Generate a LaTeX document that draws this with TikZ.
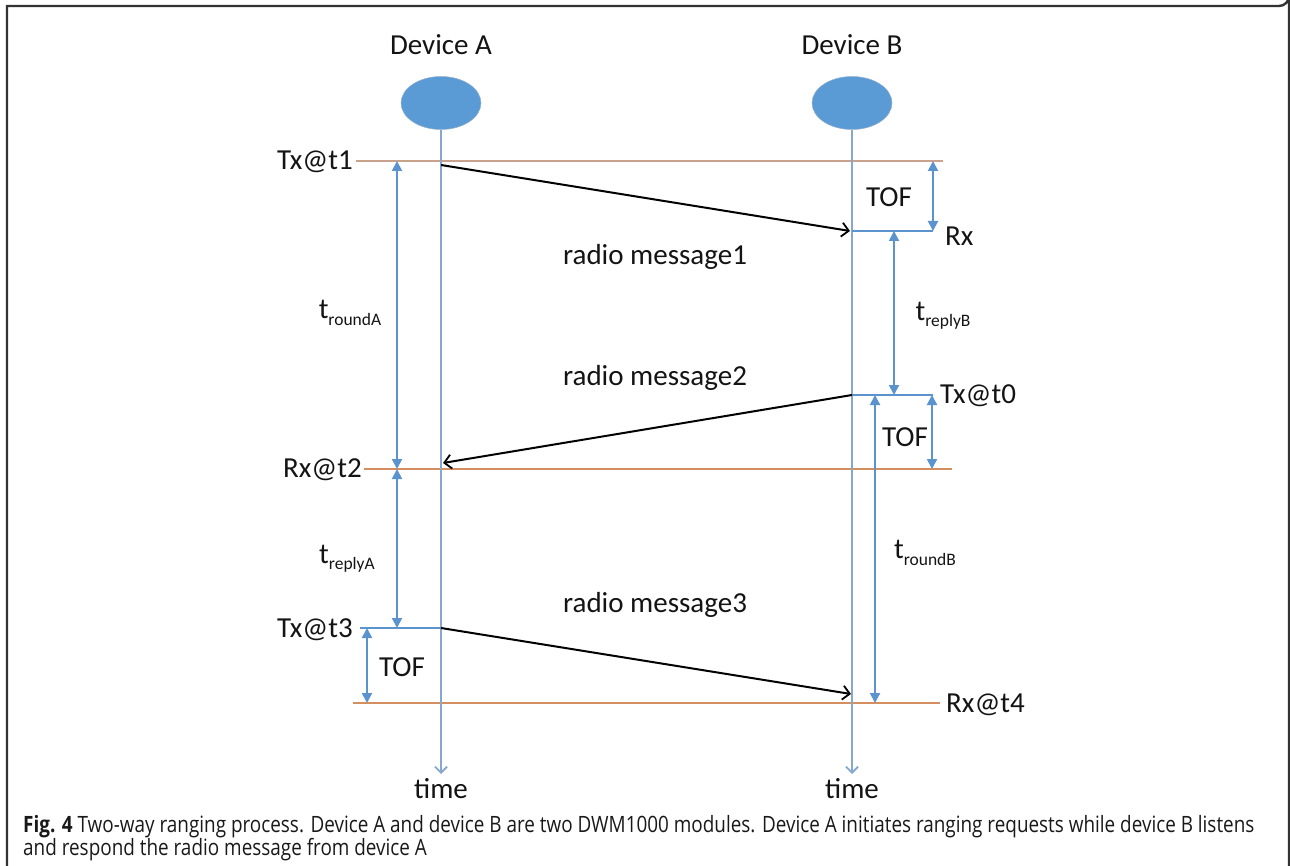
\documentclass[tikz,border=0pt]{standalone}
\usepackage{fontspec}
\setmainfont{Carlito}
\newfontfamily\capfont[FakeStretch=0.84]{Open Sans}
\usetikzlibrary{arrows.meta,shapes.geometric}
\definecolor{lifeblue}{HTML}{86A8CF}
\definecolor{arrblue}{HTML}{5B93CE}
\definecolor{ellblue}{HTML}{5B9BD5}
\definecolor{tanline}{HTML}{C9A28C}
\definecolor{rxorange}{HTML}{D58E60}
\definecolor{framegray}{HTML}{333333}
\newcommand{\tsub}[2]{#1\raisebox{-0.22em}{\fontsize{17.5}{17.5}\selectfont #2}}
\tikzset{
  lbl/.style={font=\fontsize{29}{29}\selectfont, inner sep=0pt, text=black!92},
  dev/.style={ellipse, fill=ellblue, draw=ellblue!80!black!60, line width=0.5pt, minimum width=80pt, minimum height=53pt, inner sep=0pt},
  lifeline/.style={draw=lifeblue, line width=2.6pt, -{Straight Barb[length=6pt,width=12pt,line width=1.8pt]}},
  span/.style={draw=arrblue, line width=2pt, {Triangle[length=10pt,width=10pt]}-{Triangle[length=10pt,width=10pt]}},
  stamp/.style={draw=arrblue, line width=2pt},
  msg/.style={draw=black, line width=2pt, -{Straight Barb[length=7pt,width=14pt,line width=1.8pt]}},
  tanrule/.style={draw=tanline, line width=2.4pt},
  orrule/.style={draw=rxorange, line width=2.4pt},
  captext/.style={font=\capfont\fontsize{22.5}{22.5}\selectfont, inner sep=0pt, anchor=base west, text=black!90}
}
\begin{document}
\begin{tikzpicture}[x=1pt,y=-1pt]
\useasboundingbox (0,0) rectangle (1290,866);
% frame
\draw[framegray, line width=2.4pt] (7,866) -- (7,6) -- (1279,6) arc[start angle=90, end angle=0, radius=10] -- (1289,866);

% devices
\node[lbl] (devA) at (441,45) {Device A};
\node[lbl] (devB) at (852,45) {Device B};
\node[dev] (ellA) at (441,103) {};
\node[dev] (ellB) at (852,103) {};

% coordinates
\coordinate (endA) at (441,774);
\coordinate (endB) at (852,774);
\node[lbl] (timeA) at (441,789) {time};
\node[lbl] (timeB) at (852,789) {time};

% horizontal rules
\coordinate (t1L) at (356,161); \coordinate (t1R) at (943,161);
\coordinate (t2L) at (364,469); \coordinate (t2R) at (952,469);
\coordinate (t4L) at (353,703); \coordinate (t4R) at (940,703);
\draw[tanrule] (t1L) -- (t1R);
\draw[orrule] (t2L) -- (t2R);
\draw[orrule] (t4L) -- (t4R);

% lifelines
\draw[lifeline] (ellA.south) -- (endA);
\draw[lifeline] (ellB.south) -- (endB);

% B side stamps
\coordinate (rxB) at (852,231); \coordinate (rxBR) at (933,231);
\coordinate (t0B) at (852,395); \coordinate (t0BR) at (933,395);
\draw[stamp] (rxB) -- (rxBR);
\draw[stamp] (t0B) -- (t0BR);
% A side stamp
\coordinate (t3L) at (360,628); \coordinate (t3A) at (441,628);
\draw[stamp] (t3L) -- (t3A);

% messages
\coordinate (m1s) at (441,165); \coordinate (m1e) at (850,231);
\coordinate (m2e) at (443,463);
\coordinate (m3e) at (851,694);
\draw[msg] (m1s) -- (m1e);
\draw[msg] (t0B) -- (m2e);
\draw[msg] (t3A) -- (m3e);

% spans
\coordinate (tofAt) at (933,161); \coordinate (tofAb) at (933,231);
\draw[span] (tofAt) -- (tofAb);
\coordinate (rAt) at (397,161); \coordinate (rAb) at (397,469);
\draw[span] (rAt) -- (rAb);
\coordinate (rBt) at (894,231); \coordinate (rBb) at (894,395);
\draw[span] (rBt) -- (rBb);
\coordinate (tofBt) at (932,395); \coordinate (tofBb) at (932,469);
\draw[span] (tofBt) -- (tofBb);
\coordinate (rdBt) at (875,395); \coordinate (rdBb) at (875,703);
\draw[span] (rdBt) -- (rdBb);
\coordinate (rpAt) at (397,469); \coordinate (rpAb) at (397,628);
\draw[span] (rpAt) -- (rpAb);
\coordinate (tofCt) at (367,628); \coordinate (tofCb) at (367,703);
\draw[span] (tofCt) -- (tofCb);

% labels
\node[lbl, anchor=east] (lt1) at (353,162) {Tx@t1};
\node[lbl, anchor=east] (lt2) at (362,470) {Rx@t2};
\node[lbl, anchor=east] (lt3) at (353,630) {Tx@t3};
\node[lbl, anchor=west] (lrx) at (945,236) {Rx};
\node[lbl, anchor=west] (lt0) at (940,396) {Tx@t0};
\node[lbl, anchor=west] (lt4) at (946,705) {Rx@t4};
\node[lbl] (tof1) at (889,197) {TOF};
\node[lbl] (tof2) at (905,437) {TOF};
\node[lbl] (tof3) at (402,667) {TOF};
\node[lbl] (rm1) at (655,257) {radio message1};
\node[lbl] (rm2) at (655,378) {radio message2};
\node[lbl] (rm3) at (655,605) {radio message3};
\node[lbl] (troA) at (350,313) {\tsub{t}{roundA}};
\node[lbl] (trpB) at (943,316) {\tsub{t}{replyB}};
\node[lbl] (trpA) at (347,559) {\tsub{t}{replyA}};
\node[lbl] (troB) at (925,553) {\tsub{t}{roundB}};

% caption
\node[captext] (cap1) at (23,832) {\textbf{Fig. 4} Two-way ranging process. Device A and device B are two DWM1000 modules. Device A initiates ranging requests while device B listens};
\node[captext] (cap2) at (23,855) {and respond the radio message from device A};
\end{tikzpicture}
\end{document}
